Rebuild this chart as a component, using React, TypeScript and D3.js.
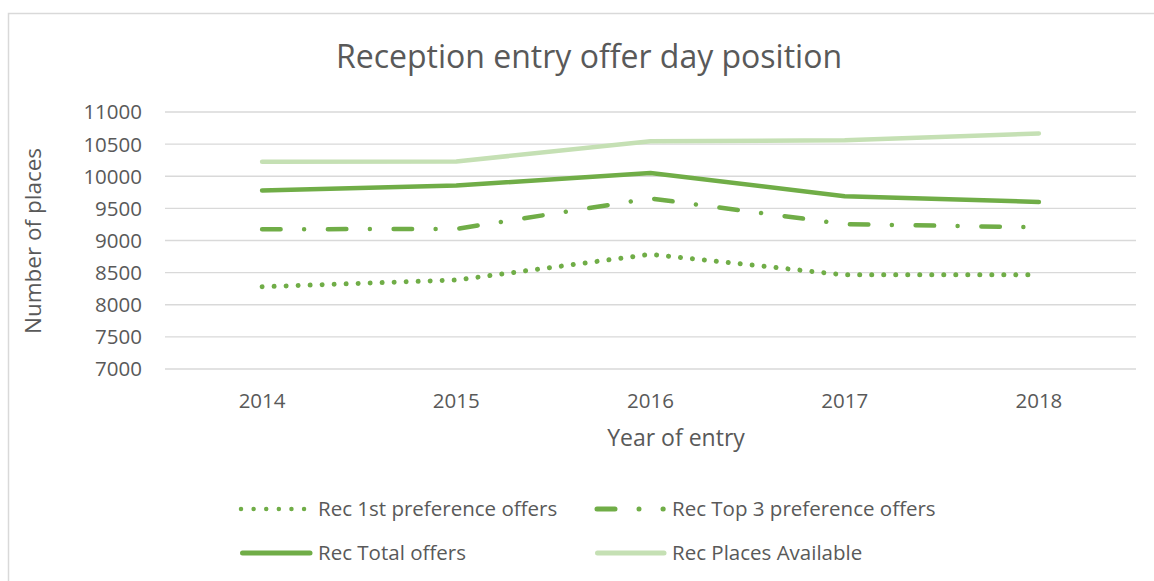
import React, { useEffect, useRef } from 'react';
import * as d3 from 'd3';

const years = ['2014', '2015', '2016', '2017', '2018'];
const firstPref = [8280, 8385, 8785, 8465, 8465];
const top3Pref = [9175, 9180, 9655, 9255, 9205];
const totalOffers = [9780, 9855, 10050, 9690, 9600];
const placesAvailable = [10225, 10230, 10545, 10560, 10665];
const yTicks = [7000, 7500, 8000, 8500, 9000, 9500, 10000, 10500, 11000];

const GREEN = '#70AD47';
const LIGHT = '#C5E0B4';
const TEXT = '#595959';
const GRID = '#D9D9D9';
const FONT = "'Open Sans', sans-serif";

const seriesList = [
  { name: 'Rec 1st preference offers', values: firstPref, color: GREEN, width: 5, dash: '0.01,12' },
  { name: 'Rec Top 3 preference offers', values: top3Pref, color: GREEN, width: 4.5, dash: '18.5,23.5,0.01,23.75' },
  { name: 'Rec Total offers', values: totalOffers, color: GREEN, width: 4.5, dash: null },
  { name: 'Rec Places Available', values: placesAvailable, color: LIGHT, width: 4.5, dash: null },
];

const App = () => {
  const svgRef = useRef(null);

  useEffect(() => {
    const svg = d3.select(svgRef.current);
    svg.selectAll('*').remove();

    const width = 1154;
    const height = 581;
    const plot = { left: 165, right: 1136, top: 112, bottom: 369 };

    // chart area border (right and bottom edges run off the page)
    svg.append('rect')
      .attr('x', 8.5).attr('y', 13.5)
      .attr('width', width + 10).attr('height', height + 10)
      .attr('fill', 'white')
      .attr('stroke', GRID)
      .attr('stroke-width', 1.5);

    const x = d3.scalePoint()
      .domain(years)
      .range([plot.left, plot.right])
      .padding(0.5);

    const y = d3.scaleLinear()
      .domain([7000, 11000])
      .range([plot.bottom, plot.top]);

    // title
    svg.append('text')
      .attr('x', 589)
      .attr('y', 68)
      .attr('text-anchor', 'middle')
      .style('font-family', FONT)
      .style('font-size', '32px')
      .style('fill', TEXT)
      .text('Reception entry offer day position');

    // grid lines
    svg.append('g')
      .selectAll('line')
      .data(yTicks)
      .enter().append('line')
      .attr('x1', plot.left)
      .attr('x2', plot.right)
      .attr('y1', d => y(d))
      .attr('y2', d => y(d))
      .attr('stroke', GRID)
      .attr('stroke-width', 1.3);

    // y tick labels
    svg.append('g')
      .selectAll('text')
      .data(yTicks)
      .enter().append('text')
      .attr('x', 142)
      .attr('y', d => y(d))
      .attr('dy', '0.36em')
      .attr('text-anchor', 'end')
      .style('font-family', FONT)
      .style('font-size', '20.5px')
      .style('fill', TEXT)
      .text(d => d);

    // x tick labels
    svg.append('g')
      .selectAll('text')
      .data(years)
      .enter().append('text')
      .attr('x', d => x(d))
      .attr('y', 408)
      .attr('text-anchor', 'middle')
      .style('font-family', FONT)
      .style('font-size', '20.5px')
      .style('fill', TEXT)
      .text(d => d);

    // axis titles
    svg.append('text')
      .attr('transform', 'rotate(-90)')
      .attr('x', -241)
      .attr('y', 41)
      .attr('text-anchor', 'middle')
      .style('font-family', FONT)
      .style('font-size', '22.5px')
      .style('fill', TEXT)
      .text('Number of places');

    svg.append('text')
      .attr('x', 676)
      .attr('y', 446)
      .attr('text-anchor', 'middle')
      .style('font-family', FONT)
      .style('font-size', '23px')
      .style('fill', TEXT)
      .text('Year of entry');

    // lines (draw light one first so it sits beneath)
    const line = d3.line()
      .x((d, i) => x(years[i]))
      .y(d => y(d));

    [3, 2, 1, 0].forEach(idx => {
      const s = seriesList[idx];
      svg.append('path')
        .datum(s.values)
        .attr('d', line)
        .attr('fill', 'none')
        .attr('stroke', s.color)
        .attr('stroke-width', s.width)
        .attr('stroke-linecap', 'round')
        .attr('stroke-linejoin', 'round')
        .attr('stroke-dasharray', s.dash);
    });

    // legend
    const legendItems = [
      { s: seriesList[0], x1: 241, x2: 304.2, tx: 318, ly: 509, w: 4.5, dash: '0.01,12.6' },
      { s: seriesList[1], x1: 597, x2: 663.2, tx: 672, ly: 509, w: 5, dash: '18,24,0.01,24' },
      { s: seriesList[2], x1: 242.5, x2: 310, tx: 318, ly: 553, w: 5, dash: null },
      { s: seriesList[3], x1: 597.5, x2: 664, tx: 672, ly: 553, w: 5, dash: null },
    ];

    const legend = svg.append('g');
    legendItems.forEach(item => {
      legend.append('line')
        .attr('x1', item.x1)
        .attr('x2', item.x2)
        .attr('y1', item.ly)
        .attr('y2', item.ly)
        .attr('stroke', item.s.color)
        .attr('stroke-width', item.w)
        .attr('stroke-linecap', 'round')
        .attr('stroke-dasharray', item.dash);

      legend.append('text')
        .attr('x', item.tx)
        .attr('y', item.ly)
        .attr('dy', '0.36em')
        .style('font-family', FONT)
        .style('font-size', '20.5px')
        .style('fill', TEXT)
        .text(item.s.name);
    });
  }, []);

  return (
    <div style={{ position: 'absolute', left: 0, top: 0, width: 1154, height: 581, overflow: 'hidden', background: 'white' }}>
      <svg ref={svgRef} width={1154} height={581} style={{ display: 'block' }}></svg>
    </div>
  );
};

export default App;
